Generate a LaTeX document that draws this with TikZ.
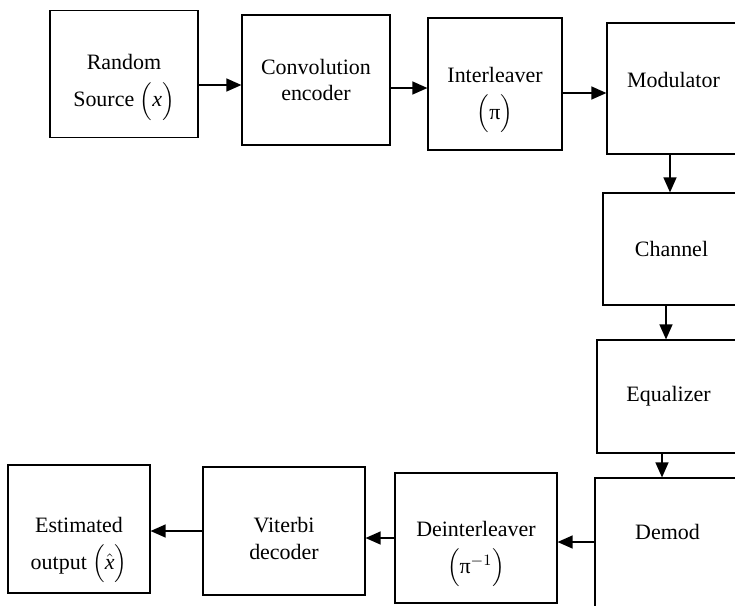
\documentclass[tikz,border=0pt]{standalone}
\usepackage{amsmath}
\usepackage{fontspec}
\setmainfont{Liberation Serif}
\usetikzlibrary{arrows.meta}
\tikzset{
  blk/.style={draw=black,line width=0.7pt,align=center,inner sep=2pt,
    font=\fontsize{12.5}{15}\selectfont},
  flow/.style={draw=black,line width=0.7pt,-{Triangle[length=3mm,width=2.6mm]}},
}

\begin{document}
\begin{tikzpicture}[x=0.02cm,y=-0.02cm]
\useasboundingbox (0,0) rectangle (735,606);
\clip (0,0) rectangle (735,606);
% transmitter row
\node[blk,minimum width=2.96cm,minimum height=2.54cm,text height=1.58cm] (src) at (124,74) {Random\\[6pt]Source $\Big(\text{\textit{x}}\Big)$};
\node[blk,minimum width=2.96cm,minimum height=2.6cm] (conv) at (316,80) {Convolution\\encoder};
\node[blk,minimum width=2.68cm,minimum height=2.64cm,text height=1.68cm] (intl) at (495,84) {Interleaver\\[6pt]$\Big(\text{π}\Big)$};
\node[blk,minimum width=2.66cm,minimum height=2.62cm,text depth=0.35cm] (mod) at (673.5,88.5) {Modulator};
% right column
\node[blk,minimum width=2.74cm,minimum height=2.24cm] (chan) at (671.5,249) {Channel};
\node[blk,minimum width=2.86cm,minimum height=2.26cm] (eq) at (668.5,396.5) {Equalizer};
\node[blk,minimum width=2.9cm,minimum height=2.84cm,text depth=0.7cm] (demod) at (667.5,549) {Demod};
% receiver row
\node[blk,minimum width=3.24cm,minimum height=2.6cm,text height=1.68cm] (deint) at (476,538) {Deinterleaver\\[6pt]$\Big(\text{π}^{-1}\Big)$};
\node[blk,minimum width=3.24cm,minimum height=2.56cm,text height=1.13cm] (vit) at (284,531) {Viterbi\\decoder};
\node[blk,minimum width=2.84cm,minimum height=2.56cm,text height=1.88cm] (est) at (79,529) {Estimated\\[6pt]output $\Big(\hat{\text{\textit{x}}}\Big)$};
% connectors
\draw[flow] ([yshift=-0.22cm]src.east) -- ([yshift=-0.22cm]src.east -| conv.west);
\draw[flow] ([yshift=-0.16cm]conv.east) -- ([yshift=-0.16cm]conv.east -| intl.west);
\draw[flow] ([yshift=-0.18cm]intl.east) -- ([yshift=-0.18cm]intl.east -| mod.west);
\draw[flow] ([xshift=-0.07cm]mod.south) -- ([xshift=-0.07cm]mod.south |- chan.north);
\draw[flow] ([xshift=-0.11cm]chan.south) -- ([xshift=-0.11cm]chan.south |- eq.north);
\draw[flow] ([xshift=-0.13cm]eq.south) -- ([xshift=-0.13cm]eq.south |- demod.north);
\draw[flow] ([yshift=0.14cm]demod.west) -- ([yshift=0.14cm]demod.west -| deint.east);
\draw[flow] (deint.west) -- (deint.west -| vit.east);
\draw[flow] (vit.west) -- (vit.west -| est.east);
\end{tikzpicture}
\end{document}
